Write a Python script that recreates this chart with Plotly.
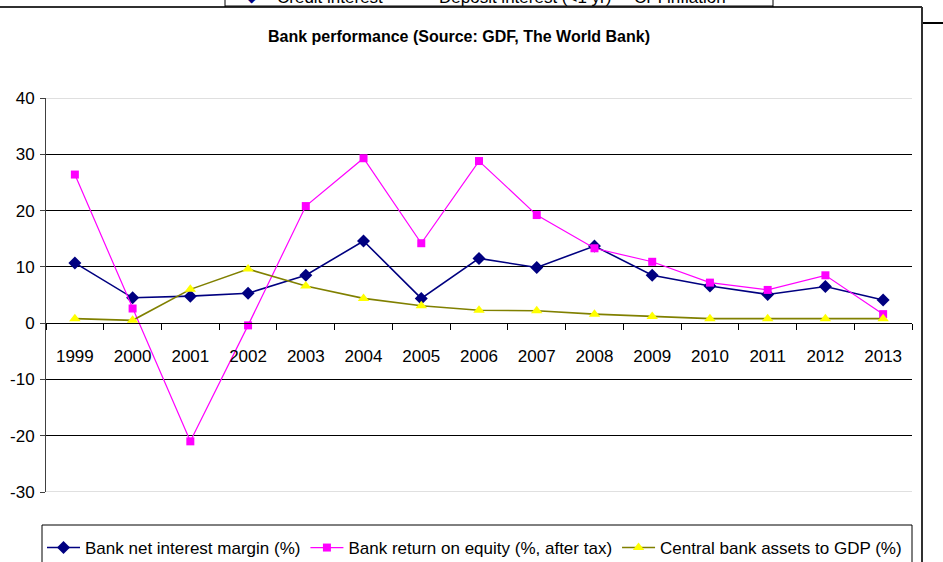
import plotly.graph_objects as go

years = ["1999", "2000", "2001", "2002", "2003", "2004", "2005", "2006",
         "2007", "2008", "2009", "2010", "2011", "2012", "2013"]
net_interest_margin = [10.7, 4.5, 4.8, 5.3, 8.5, 14.6, 4.4, 11.5,
                       9.9, 13.7, 8.5, 6.6, 5.1, 6.5, 4.1]
return_on_equity = [26.4, 2.6, -21.0, -0.4, 20.8, 29.3, 14.2, 28.8,
                    19.2, 13.3, 10.9, 7.2, 5.9, 8.5, 1.6]
cb_assets_gdp = [0.8, 0.5, 6.0, 9.6, 6.6, 4.4, 3.1, 2.3,
                 2.2, 1.6, 1.2, 0.8, 0.8, 0.8, 0.8]
y_ticks = [-30, -20, -10, 0, 10, 20, 30, 40]
y_tick_labels = ["-30", "-20", "-10", "0", "10", "20", "30", "40"]

W, H = 943, 562
L, R, T, B = 46, 912, 98, 492
pw, ph = R - L, B - T

def px(x):
    return (x - L) / pw

def py(y):
    return (B - y) / ph

FONT = "Liberation Sans, Arial, sans-serif"

fig = go.Figure()
fig.add_trace(go.Scatter(
    x=years, y=net_interest_margin, name="Bank net interest margin (%)",
    mode="lines+markers", line=dict(color="#000080", width=1.6),
    marker=dict(symbol="diamond", size=10, color="#000080")))
fig.add_trace(go.Scatter(
    x=years, y=return_on_equity, name="Bank return on equity (%, after tax)",
    mode="lines+markers", line=dict(color="#FF00FF", width=1.2),
    marker=dict(symbol="square", size=8, color="#FF00FF")))
fig.add_trace(go.Scatter(
    x=years, y=cb_assets_gdp, name="Central bank assets to GDP (%)",
    mode="lines+markers", line=dict(color="#808000", width=1.6),
    marker=dict(symbol="triangle-up", size=10, color="#FFFF00")))

ypos = (0 - y_ticks[0]) / (y_ticks[-1] - y_ticks[0])

fig.update_layout(
    width=W, height=H,
    margin=dict(l=L, r=W - R, t=T, b=H - B, pad=0, autoexpand=False),
    paper_bgcolor="white", plot_bgcolor="white",
    font=dict(family=FONT, size=17, color="black"),
    showlegend=True,
    legend=dict(orientation="h", x=px(42), xanchor="left",
                y=py(530), yanchor="top", bgcolor="rgba(0,0,0,0)",
                borderwidth=0, font=dict(size=17), itemwidth=33),
    xaxis=dict(type="category", range=[-0.5, len(years) - 0.5],
               anchor="free", position=ypos, automargin=False,
               showline=True, linecolor="black", linewidth=1,
               ticks="outside", ticklen=6, tickcolor="black",
               tickson="boundaries", showgrid=False,
               ticklabelstandoff=17,
               tickfont=dict(size=17)),
    yaxis=dict(range=[y_ticks[0], y_ticks[-1]], tickvals=y_ticks,
               ticktext=y_tick_labels, automargin=False,
               showline=True, linecolor="#404040", linewidth=1,
               ticks="outside", ticklen=5, tickcolor="#404040",
               ticklabelstandoff=2,
               showgrid=True, gridcolor="black", gridwidth=1,
               zeroline=False, tickfont=dict(size=17)),
)

shapes = []
# light gray plot-area edges at top and bottom
for yv in (y_ticks[0], y_ticks[-1]):
    shapes.append(dict(type="line", xref="paper", yref="y", x0=0, x1=1,
                       y0=yv, y1=yv, line=dict(color="#c0c0c0", width=1),
                       layer="above"))
# legend box
shapes.append(dict(type="rect", xref="paper", yref="paper",
                   x0=px(42), x1=px(912), y0=py(525), y1=py(575),
                   line=dict(color="black", width=1), layer="below"))
# chart area border (top and right)
shapes.append(dict(type="line", xref="paper", yref="paper",
                   x0=px(0), x1=px(922), y0=py(7), y1=py(7),
                   line=dict(color="#303030", width=2)))
shapes.append(dict(type="line", xref="paper", yref="paper",
                   x0=px(922), x1=px(922), y0=py(7), y1=py(570),
                   line=dict(color="#303030", width=2)))
shapes.append(dict(type="line", xref="paper", yref="paper",
                   x0=px(923), x1=px(945), y0=py(23), y1=py(23),
                   line=dict(color="black", width=2)))
# partial legend box of the chart above
shapes.append(dict(type="line", xref="paper", yref="paper",
                   x0=px(225), x1=px(225), y0=py(-5), y1=py(7),
                   line=dict(color="black", width=1)))
shapes.append(dict(type="line", xref="paper", yref="paper",
                   x0=px(773), x1=px(773), y0=py(-5), y1=py(7),
                   line=dict(color="black", width=1)))
shapes.append(dict(type="line", xref="paper", yref="paper",
                   x0=px(225), x1=px(773), y0=py(6), y1=py(6),
                   line=dict(color="black", width=1)))
fig.update_layout(shapes=shapes)

annotations = [
    dict(text="<b>Bank performance (Source: GDF, The World Bank)</b>",
         xref="paper", yref="paper", x=px(459), y=py(37),
         xanchor="center", yanchor="middle", showarrow=False,
         font=dict(size=16, family=FONT)),
    dict(text="Credit interest", xref="paper", yref="paper",
         x=px(275), y=py(-3), xanchor="left", yanchor="middle",
         showarrow=False, font=dict(size=17)),
    dict(text="Deposit interest (<1 yr)", xref="paper", yref="paper",
         x=px(437), y=py(-3), xanchor="left", yanchor="middle",
         showarrow=False, font=dict(size=17)),
    dict(text="CPI inflation", xref="paper", yref="paper",
         x=px(632), y=py(-3), xanchor="left", yanchor="middle",
         showarrow=False, font=dict(size=17)),
    dict(text="\u25C6", xref="paper", yref="paper",
         x=px(252), y=py(-2), xanchor="center", yanchor="middle",
         showarrow=False, font=dict(size=12, color="#000080")),
    dict(text="*", xref="paper", yref="paper",
         x=px(602), y=py(-1), xanchor="center", yanchor="middle",
         showarrow=False, font=dict(size=14, color="#800080")),
]
fig.update_layout(annotations=annotations)

fig.write_html(
    "out.html",
    config={"displayModeBar": False},
    post_script="document.body.style.margin='0px';"
                "document.body.style.padding='0px';")
